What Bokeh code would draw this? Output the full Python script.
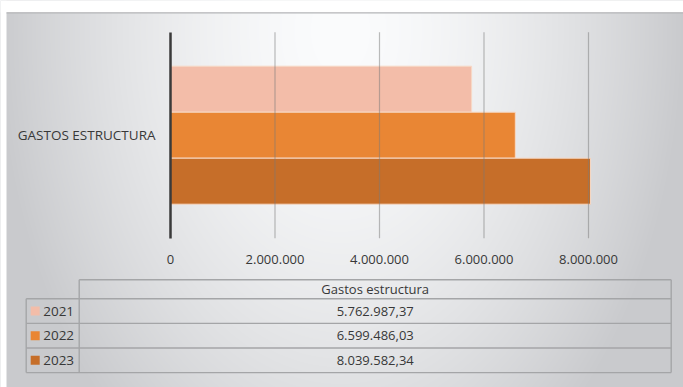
import numpy as np
from bokeh.plotting import figure
from bokeh.models import Range1d, FixedTicker
from bokeh.core.properties import value
from bokeh.embed import file_html
from bokeh.resources import INLINE

# ---------------- data ----------------
category = "GASTOS ESTRUCTURA"
table_header = "Gastos estructura"
years = ["2021", "2022", "2023"]
amounts = [5762987.37, 6599486.03, 8039582.34]
colors = ["#F3BDA9", "#E98634", "#C66E29"]
x_ticks = [0, 2000000, 4000000, 6000000, 8000000]


def es_fmt(v, dec=0):
    s = f"{v:,.{dec}f}"
    return s.replace(",", "X").replace(".", ",").replace("X", ".")


# ---------------- layout constants ----------------
W, H = 683, 387
X0_PX, XMAX_PX = 170.0, 588.0          # screen x of 0 and of last tick
ppu = (XMAX_PX - X0_PX) / x_ticks[-1]
x_start = -X0_PX / ppu
x_end = (W - X0_PX) / ppu
PLOT_TOP, PLOT_BOT = 31.7, 237.7       # plot area (screen y from top)
upx = PLOT_BOT - PLOT_TOP
y_end = 0.5 + PLOT_TOP / upx
y_start = -0.5 - (H - PLOT_BOT) / upx
FONT = "Open Sans"
TXT = "#383838"
PANEL_LEFT, PANEL_TOP = 6.0, 12.0

p = figure(width=W, height=H, x_range=Range1d(x_start, x_end),
           y_range=Range1d(y_start, y_end), output_backend="svg",
           toolbar_location=None, min_border=0)
p.min_border_left = p.min_border_right = p.min_border_top = p.min_border_bottom = 0
p.extra_x_ranges = {"px": Range1d(0, W)}
p.extra_y_ranges = {"px": Range1d(0, H)}
p.outline_line_color = None
p.border_fill_color = "white"
p.background_fill_color = "#e6e7e9"
p.xgrid.visible = False
p.ygrid.visible = False

# ---------------- background gradient (style only) ----------------
jj, ii = np.mgrid[0:H, 0:W]
ax = ii + 0.5
ay = H - jj - 0.5
t = np.sqrt(((ax - 340.0) / 345.0) ** 2 + ((ay - 30.0) / 520.0) ** 2)
t = np.clip(t, 0, 1) ** 1.6
light = np.array([251, 252, 253], dtype=float)
dark = np.array([201, 202, 205], dtype=float)
rgb = light[None, None, :] * (1 - t[..., None]) + dark[None, None, :] * t[..., None]
img = np.empty((H, W), dtype=np.uint32)
view = img.view(dtype=np.uint8).reshape((H, W, 4))
view[..., 0] = rgb[..., 0].astype(np.uint8)
view[..., 1] = rgb[..., 1].astype(np.uint8)
view[..., 2] = rgb[..., 2].astype(np.uint8)
view[..., 3] = 255
p.image_rgba(image=[img], x=0, y=0, dw=W, dh=H,
             x_range_name="px", y_range_name="px", level="image")
# white margin above / left of the chart panel + its border line
p.quad(left=[0, 0], right=[W, PANEL_LEFT], bottom=[H - PANEL_TOP, 0], top=[H, H],
       x_range_name="px", y_range_name="px", fill_color="white", line_color=None)
p.segment(x0=PANEL_LEFT, y0=H - PANEL_TOP - 0.3, x1=W, y1=H - PANEL_TOP - 0.3,
          x_range_name="px", y_range_name="px", line_color="#b4b5b7", line_width=1.2)

# ---------------- bars ----------------
bar_h = 46.0 / upx
offsets = [(1 - i) * bar_h for i in range(len(years))]
p.hbar(y=offsets, left=0, right=amounts, height=bar_h, fill_color=colors,
       line_color="#f7d9c6", line_width=1)

# gridlines (drawn over the bars, as in the reference)
p.segment(x0=x_ticks[1:], y0=-0.5, x1=x_ticks[1:], y1=0.5,
          line_color="#7a7a7a", line_alpha=0.5, line_width=1.2)

# ---------------- axes ----------------
xa = p.xaxis[0]
xa.fixed_location = -0.5
xa.ticker = FixedTicker(ticks=x_ticks)
xa.major_label_overrides = {float(v): es_fmt(v) for v in x_ticks}
xa.axis_line_color = None
xa.major_tick_line_color = None
xa.minor_tick_line_color = None
xa.major_label_standoff = 11
xa.major_label_text_font = FONT
xa.major_label_text_font_size = "13px"
xa.major_label_text_color = TXT

ya = p.yaxis[0]
ya.fixed_location = 0
ya.bounds = (-0.5, 0.5)
ya.ticker = FixedTicker(ticks=[0])
ya.major_label_overrides = {0.0: category}
ya.axis_line_color = "#3a3a3a"
ya.axis_line_width = 2.5
ya.major_tick_line_color = None
ya.minor_tick_line_color = None
ya.major_label_standoff = 9
ya.major_label_text_font = FONT
ya.major_label_text_font_size = "13.5px"
ya.major_label_text_color = TXT

# ---------------- data table ----------------
T_LEFT, T_DIV, T_RIGHT = 25.7, 78.7, 670.7
HDR_TOP, HDR_H, ROW_H = H - 279.3, 19.0, 24.6
row_tops = [HDR_TOP - HDR_H - i * ROW_H for i in range(len(years))]
row_mid = [rt - ROW_H / 2 for rt in row_tops]
t_bottom = row_tops[-1] - ROW_H
LC, LW = "#a4a5a7", 1.4

p.segment(x0=[T_DIV] + [T_LEFT] * (len(years) + 1),
          y0=[HDR_TOP] + row_tops + [t_bottom],
          x1=[T_RIGHT] * (len(years) + 2),
          y1=[HDR_TOP] + row_tops + [t_bottom],
          x_range_name="px", y_range_name="px", line_color=LC, line_width=LW)
p.segment(x0=[T_LEFT, T_DIV, T_RIGHT], y0=[row_tops[0], HDR_TOP, HDR_TOP],
          x1=[T_LEFT, T_DIV, T_RIGHT], y1=[t_bottom] * 3,
          x_range_name="px", y_range_name="px", line_color=LC, line_width=LW)

mid_x = (T_DIV + T_RIGHT) / 2
p.text(x=[mid_x], y=[HDR_TOP - HDR_H / 2], text=[table_header],
       x_range_name="px", y_range_name="px", text_font=value(FONT),
       text_font_size="13px", text_color=TXT, text_align="center",
       text_baseline="middle")
p.text(x=[mid_x] * len(years), y=row_mid, text=[es_fmt(v, 2) for v in amounts],
       x_range_name="px", y_range_name="px", text_font=value(FONT),
       text_font_size="13px", text_color=TXT, text_align="center",
       text_baseline="middle")
p.rect(x=[T_LEFT + 9.0] * len(years), y=row_mid, width=9, height=9,
       x_range_name="px", y_range_name="px", fill_color=colors,
       line_color=None)
p.text(x=[T_LEFT + 17.0] * len(years), y=row_mid, text=years,
       x_range_name="px", y_range_name="px", text_font=value(FONT),
       text_font_size="13.5px", text_color=TXT, text_align="left",
       text_baseline="middle")

open("out.html", "w").write(file_html(p, INLINE))
